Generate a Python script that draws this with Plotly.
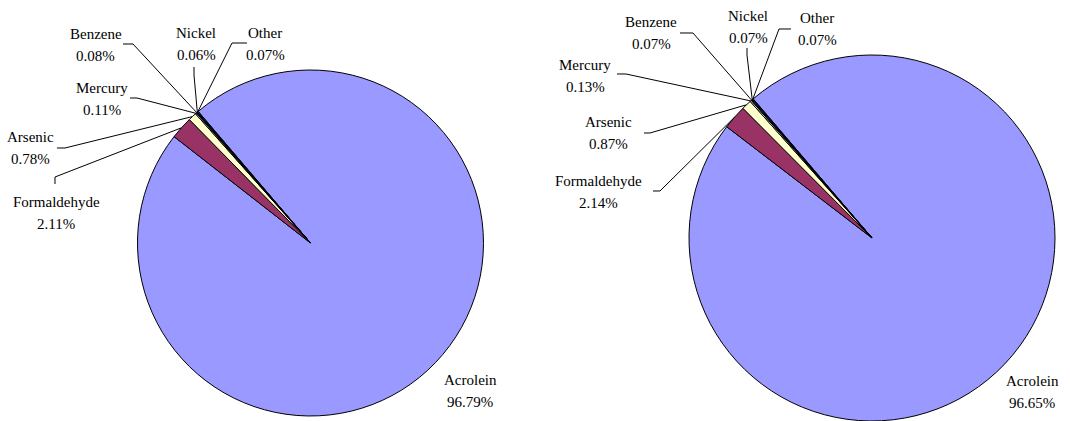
import math
import plotly.graph_objects as go

W, H = 1070, 421

categories = ["Acrolein", "Formaldehyde", "Arsenic", "Mercury", "Benzene", "Nickel", "Other"]
left_values = [96.79, 2.11, 0.78, 0.11, 0.08, 0.06, 0.07]
right_values = [96.65, 2.14, 0.87, 0.13, 0.07, 0.07, 0.07]
colors = ["#9999FF", "#993366", "#FFFFCC", "#CCFFFF", "#660066", "#FF8080", "#0066CC"]

ROT = 319.5
FONT = dict(family="Liberation Serif", size=15, color="#000000")

# pie geometry in pixels (center x, center y from top, radius)
pies = [
    dict(values=left_values, cx=310.5, cy=243, r=173,
         labels_pos={  # name center (x, y); leader elbow points
             "Acrolein": (470, 380, None),
             "Formaldehyde": (56, 202, [(55, 184), (55, 177)]),
             "Arsenic": (30, 137, [(57, 148), (65, 148)]),
             "Mercury": (102, 88, [(130, 98), (137, 98)]),
             "Benzene": (96, 34, [(123, 44), (133, 44)]),
             "Nickel": (196, 33, [(194, 67), (194, 75)]),
             "Other": (265, 33, [(247, 43), (232, 43)]),
         }),
    dict(values=right_values, cx=872, cy=238, r=183,
         labels_pos={
             "Acrolein": (1032, 381, None),
             "Formaldehyde": (598, 181, [(653, 191), (660, 191)]),
             "Arsenic": (608, 122, [(644, 133), (650, 133)]),
             "Mercury": (585, 65, [(617, 74), (626, 74)]),
             "Benzene": (651, 22, [(680, 33), (693, 33)]),
             "Nickel": (748, 16, [(747, 48), (747, 55)]),
             "Other": (817, 18, [(791, 29), (779, 29)]),
         }),
]

fig = go.Figure()
annotations = []
shapes = []

def px(x):
    return x / W

def py(y):
    return 1 - y / H

for p in pies:
    cx, cy, r = p["cx"], p["cy"], p["r"]
    fig.add_trace(go.Pie(
        labels=categories, values=p["values"], sort=False, direction="clockwise",
        rotation=ROT, textinfo="none", textposition="none",
        marker=dict(colors=colors, line=dict(color="#000000", width=1)),
        domain=dict(x=[px(cx - r), px(cx + r)], y=[max(0, py(cy + r)), min(1, py(cy - r))]),
        showlegend=False, hoverinfo="label+percent",
    ))
    total = sum(p["values"])
    start = ROT
    for name, v in zip(categories, p["values"]):
        span = v / total * 360
        mid = math.radians(start + span / 2)
        start += span
        ax_ = cx + r * math.sin(mid)
        ay_ = cy - r * math.cos(mid)
        lx, ly, elbow = p["labels_pos"][name]
        annotations.append(dict(x=px(lx), y=py(ly), xref="paper", yref="paper",
                                text=name, showarrow=False, font=FONT,
                                xanchor="center", yanchor="middle"))
        annotations.append(dict(x=px(lx), y=py(ly + 22), xref="paper", yref="paper",
                                text=f"{v:.2f}%", showarrow=False, font=FONT,
                                xanchor="center", yanchor="middle"))
        if elbow:
            pts = list(elbow) + [(ax_, ay_)]
            path = "M " + " L ".join(f"{px(x):.5f},{py(y):.5f}" for x, y in pts)
            shapes.append(dict(type="path", path=path, xref="paper", yref="paper",
                               line=dict(color="#000000", width=1)))

fig.update_layout(
    width=W, height=H, margin=dict(l=0, r=0, t=0, b=0),
    paper_bgcolor="#FFFFFF", plot_bgcolor="#FFFFFF",
    annotations=annotations, shapes=shapes,
)
fig.write_html("out.html")
